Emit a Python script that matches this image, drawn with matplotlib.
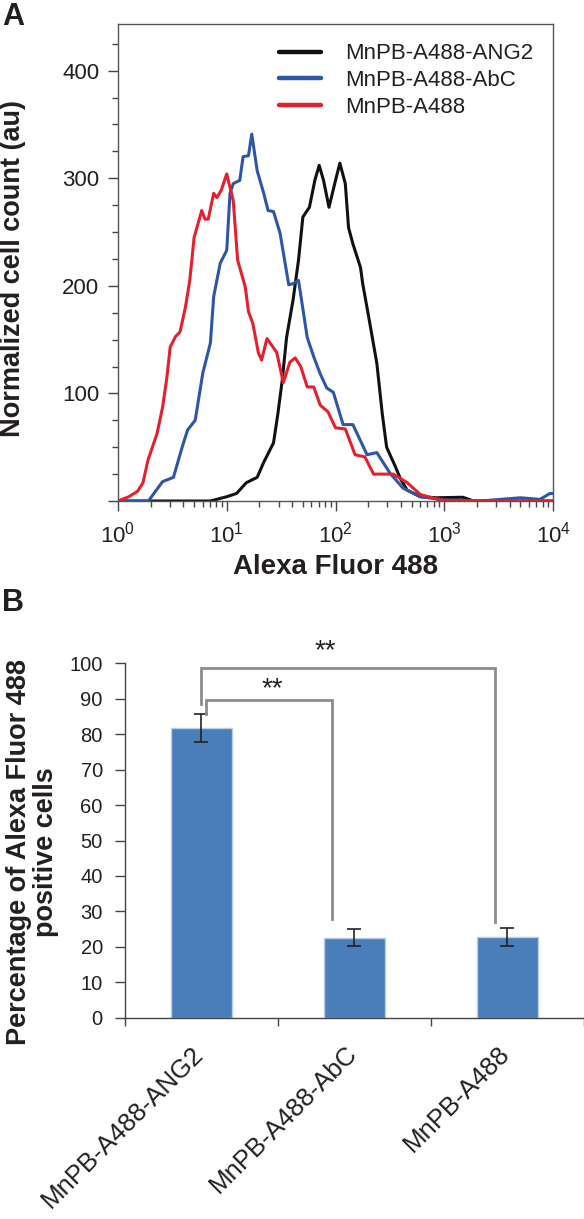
import numpy as np
import matplotlib
matplotlib.use('Agg')
import matplotlib.pyplot as plt
import matplotlib.transforms as mtransforms
from matplotlib.ticker import MultipleLocator, LogLocator, NullFormatter

plt.rcParams['font.family'] = ['Liberation Sans', 'DejaVu Sans']
plt.rcParams['mathtext.fontset'] = 'custom'
plt.rcParams['mathtext.rm'] = 'Liberation Sans'
plt.rcParams['mathtext.it'] = 'Liberation Sans:italic'
plt.rcParams['mathtext.bf'] = 'Liberation Sans:bold'

TXT = '#231f20'

# --- Panel A: histogram curves (log10 of fluorescence, count) ---
red_logx = [0.0, 0.1, 0.18, 0.23, 0.276, 0.36, 0.41, 0.45, 0.48, 0.53, 0.57, 0.62, 0.66,
            0.7, 0.72, 0.77, 0.8, 0.83, 0.88, 0.91, 0.95, 1.0, 1.06, 1.1, 1.17, 1.2, 1.24,
            1.29, 1.32, 1.37, 1.46, 1.52, 1.58, 1.63, 1.68, 1.74, 1.8, 1.86, 1.93, 2.0,
            2.09, 2.18, 2.27, 2.35, 2.53, 2.66, 2.78, 2.96, 3.2, 4.0]
red_y = [0, 4, 9, 17, 38, 63, 87, 115, 143, 153, 157, 180, 205,
         245, 252, 270, 262, 262, 286, 282, 289, 304, 279, 224, 199, 176, 165,
         138, 131, 151, 138, 110, 129, 133, 125, 106, 106, 89, 83, 68,
         67, 43, 41, 25, 25, 17, 6, 1, 0, 0]

blue_logx = [0.0, 0.28, 0.41, 0.51, 0.59, 0.64, 0.71, 0.78, 0.85, 0.88, 0.94, 1.0, 1.03,
             1.06, 1.12, 1.15, 1.2, 1.23, 1.28, 1.34, 1.38, 1.43, 1.49, 1.57, 1.61, 1.66,
             1.74, 1.8, 1.86, 1.92, 1.98, 2.07, 2.16, 2.29, 2.38, 2.5, 2.62, 2.78, 3.0,
             3.33, 3.7, 3.88, 3.97, 4.0]
blue_y = [0, 0, 18, 22, 50, 66, 75, 119, 147, 190, 221, 233, 286,
          295, 298, 320, 321, 341, 307, 286, 270, 269, 249, 201, 202, 205,
          152, 134, 118, 105, 101, 71, 71, 43, 45, 26, 12, 4, 1,
          0, 3, 1.5, 7, 7]

black_logx = [0.0, 0.85, 1.0, 1.09, 1.18, 1.28, 1.34, 1.43, 1.47, 1.51, 1.55, 1.61, 1.66,
              1.7, 1.76, 1.81, 1.85, 1.89, 1.94, 2.0, 2.04, 2.09, 2.12, 2.16, 2.23, 2.25,
              2.3, 2.38, 2.43, 2.47, 2.55, 2.6, 2.66, 2.78, 2.93, 3.17, 3.27, 4.0]
black_y = [0, 0, 4, 7, 17, 22, 36, 54, 81, 112, 152, 187, 224,
           264, 273, 298, 312, 298, 273, 298, 314, 295, 254, 239, 217, 202,
           174, 128, 81, 50, 32, 20, 10, 4, 3, 3.5, 0, 0]

# --- Panel B: bars ---
categories = ['MnPB-A488-ANG2', 'MnPB-A488-AbC', 'MnPB-A488']
percent = [81.8, 22.6, 22.8]
percent_err = [4.0, 2.4, 2.4]

fig = plt.figure(figsize=(5.84, 12.19), dpi=100)

# ---------------- Panel A ----------------
ax1 = fig.add_axes([0.202, 0.589, 0.745, 0.391])
line_kw = dict(lw=2.2, solid_joinstyle='round', solid_capstyle='round')
ax1.plot(10 ** np.array(black_logx), black_y, color='#111111', label='MnPB-A488-ANG2', **line_kw)
ax1.plot(10 ** np.array(blue_logx), blue_y, color='#2d55a8', label='MnPB-A488-AbC', **line_kw)
ax1.plot(10 ** np.array(red_logx), red_y, color='#e5202e', label='MnPB-A488', **line_kw)
ax1.set_xscale('log')
ax1.set_xlim(1, 1e4)
ax1.set_ylim(0, 443)
ax1.set_yticks([0, 100, 200, 300, 400])
ax1.set_yticklabels(['', '100', '200', '300', '400'])
ax1.yaxis.set_minor_locator(MultipleLocator(25))
ax1.xaxis.set_minor_locator(LogLocator(base=10, subs=np.arange(2, 10), numticks=20))
ax1.xaxis.set_minor_formatter(NullFormatter())
ax1.tick_params(axis='both', which='major', length=7.5, width=1, color='#444444',
                labelsize=16, labelcolor=TXT)
ax1.tick_params(axis='both', which='minor', length=4, width=1, color='#444444')
ax1.tick_params(axis='y', which='major', pad=6)
ax1.tick_params(axis='x', which='major', pad=7)
for s in ax1.spines.values():
    s.set_color('#555555')
    s.set_linewidth(1)

ax1.set_xlabel('Alexa Fluor 488', fontsize=20, fontweight='bold', color=TXT)
ax1.xaxis.set_label_coords(0.5, -0.112)
fig.text(0.022, 0.780, 'Normalized cell count (au)', rotation=90, ha='center', va='center',
         fontsize=19.5, fontweight='bold', color=TXT)

leg = ax1.legend(loc='upper left', bbox_to_anchor=(0.37, 0.96), frameon=False,
                 fontsize=16, handlelength=1.9, handletextpad=1.1, labelspacing=0.26,
                 borderpad=0, borderaxespad=0)
for h in leg.get_lines():
    h.set_linewidth(3.2)
for t in leg.get_texts():
    t.set_color(TXT)

fig.text(0.003, 0.998, 'A', fontsize=22, fontweight='bold', va='top', ha='left', color=TXT)

# ---------------- Panel B ----------------
ax2 = fig.add_axes([0.214, 0.165, 0.786, 0.291])
xpos = np.arange(len(categories))
ax2.bar(xpos, percent, width=0.4, color='#4a7ebb', edgecolor='#b9cde5', linewidth=1,
        yerr=percent_err, capsize=4.8,
        error_kw=dict(ecolor='#222222', elinewidth=1.2, capthick=1.2))
ax2.set_xlim(-0.5, 2.5)
ax2.set_ylim(0, 100)
ax2.set_yticks(np.arange(0, 101, 10))
ax2.tick_params(axis='y', length=7, width=1, color='#444444', labelsize=14.5,
                labelcolor=TXT, pad=9)
ax2.set_xticks([-0.5, 0.5, 1.5, 2.5])
ax2.set_xticklabels([])
ax2.tick_params(axis='x', which='major', length=6, width=1, color='#444444')
ax2.set_xticks(xpos, minor=True)
ax2.set_xticklabels(categories, minor=True, rotation=45, ha='right', fontsize=18.5, color=TXT)
ax2.tick_params(axis='x', which='minor', length=0, pad=17)
shift = mtransforms.ScaledTranslation(7 / 100, 0, fig.dpi_scale_trans)
for lbl in ax2.get_xticklabels(minor=True):
    lbl.set_transform(lbl.get_transform() + shift)
ax2.spines['top'].set_visible(False)
ax2.spines['right'].set_visible(False)
for s in ['left', 'bottom']:
    ax2.spines[s].set_color('#444444')
    ax2.spines[s].set_linewidth(1)

# significance brackets
gray = '#8c8c8c'
ax2.plot([0.03, 0.03, 0.85, 0.85], [percent[0] + percent_err[0], 89.6, 89.6, 28],
         color=gray, lw=2, solid_joinstyle='miter', clip_on=False)
ax2.plot([0.0, 0.0, 1.92, 1.92], [88.5, 98.6, 98.6, 27],
         color=gray, lw=2, solid_joinstyle='miter', clip_on=False)
ax2.text(0.46, 92.6, '**', ha='center', va='center', fontsize=20, color=TXT)
ax2.text(0.81, 103.4, '**', ha='center', va='center', fontsize=20, color=TXT, clip_on=False)

fig.text(0.055, 0.301, 'Percentage of Alexa Fluor 488\npositive cells', rotation=90,
         ha='center', va='center', multialignment='center', fontsize=19.5,
         fontweight='bold', color=TXT, linespacing=1.05)
fig.text(0.004, 0.518, 'B', fontsize=22, fontweight='bold', va='top', ha='left', color=TXT)

fig.savefig('out.png', dpi=100)
